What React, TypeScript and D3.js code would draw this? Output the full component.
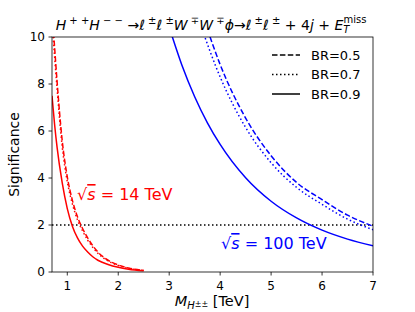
import React from "react";
import * as d3 from "d3";

// 14 TeV curves (mass in TeV, significance)
const mass14 = [0.7, 0.75, 0.8, 0.9, 1.0, 1.1, 1.2, 1.3, 1.4, 1.5, 1.6, 1.8, 2.0, 2.2, 2.5];
const sig14Br05 = [11.2, 9.6, 8.1, 5.6, 4.05, 3.05, 2.35, 1.85, 1.45, 1.12, 0.85, 0.5, 0.3, 0.17, 0.07];
const sig14Br07 = [10.7, 9.2, 7.8, 5.35, 3.85, 2.9, 2.22, 1.75, 1.36, 1.05, 0.8, 0.47, 0.28, 0.16, 0.065];
const sig14Br09 = [7.5, 6.3, 5.3, 3.8, 2.7, 1.95, 1.45, 1.1, 0.85, 0.65, 0.5, 0.32, 0.2, 0.12, 0.05];

// 100 TeV curves
const mass100Br05 = [3.7, 4.0, 4.5, 5.0, 5.5, 6.0, 6.5, 7.0];
const sig100Br05 = [10.65, 8.83, 6.55, 4.95, 3.81, 3.08, 2.42, 1.95];
const mass100Br07 = [3.6, 4.0, 4.5, 5.0, 5.5, 6.0, 6.5, 7.0];
const sig100Br07 = [10.6, 8.3, 6.15, 4.65, 3.6, 2.88, 2.25, 1.8];
const mass100Br09 = [3.0, 3.25, 3.5, 3.75, 4.0, 4.5, 5.0, 5.5, 6.0, 6.5, 7.0];
const sig100Br09 = [10.42, 8.8, 7.46, 6.35, 5.43, 4.01, 3.01, 2.3, 1.78, 1.4, 1.12];

const xTicks = [1, 2, 3, 4, 5, 6, 7];
const yTicks = [0, 2, 4, 6, 8, 10];
const threshold = 2;

const legendItems = [
  { label: "BR=0.5", dash: "5.5,2.4" },
  { label: "BR=0.7", dash: "1.5,2.5" },
  { label: "BR=0.9", dash: "" },
];

const W = 415;
const H = 312;
const M = { left: 52, right: 373, top: 37, bottom: 272 };
const FONT = "DejaVu Sans, sans-serif";

export default function App() {
  const x = d3.scaleLinear().domain([0.7, 7]).range([M.left, M.right]);
  const y = d3.scaleLinear().domain([0, 10]).range([M.bottom, M.top]);

  const line = d3
    .line<[number, number]>()
    .x((d) => x(d[0]))
    .y((d) => y(d[1]))
    .curve(d3.curveMonotoneX);

  const zip = (ms: number[], vs: number[]) => ms.map((m, i) => [m, vs[i]] as [number, number]);

  const curves = [
    { data: zip(mass14, sig14Br05), color: "#ff0000", dash: legendItems[0].dash },
    { data: zip(mass14, sig14Br07), color: "#ff0000", dash: legendItems[1].dash },
    { data: zip(mass14, sig14Br09), color: "#ff0000", dash: legendItems[2].dash },
    { data: zip(mass100Br05, sig100Br05), color: "#0000ff", dash: legendItems[0].dash },
    { data: zip(mass100Br07, sig100Br07), color: "#0000ff", dash: legendItems[1].dash },
    { data: zip(mass100Br09, sig100Br09), color: "#0000ff", dash: legendItems[2].dash },
  ];

  const sup = 10;

  return (
    <svg
      width={W}
      height={H}
      style={{ position: "absolute", left: 0, top: 0, background: "#fff" }}
      fontFamily={FONT}
    >
      <defs>
        <clipPath id="plot">
          <rect x={M.left} y={M.top} width={M.right - M.left} height={M.bottom - M.top} />
        </clipPath>
      </defs>

      {/* title */}
      <text x={211} y={30} textAnchor="middle" fontSize={14}>
        <tspan fontStyle="italic">H</tspan>
        <tspan fontSize={sup} dy={-6}> + +</tspan>
        <tspan dy={6} fontStyle="italic">H</tspan>
        <tspan fontSize={sup} dy={-6}> − −</tspan>
        <tspan dy={6}> →</tspan>
        <tspan fontStyle="italic">ℓ</tspan>
        <tspan fontSize={sup} dy={-6}> ±</tspan>
        <tspan dy={6} fontStyle="italic">ℓ</tspan>
        <tspan fontSize={sup} dy={-6}> ±</tspan>
        <tspan dy={6} fontStyle="italic">W</tspan>
        <tspan fontSize={sup} dy={-6}> ∓</tspan>
        <tspan dy={6} fontStyle="italic">W</tspan>
        <tspan fontSize={sup} dy={-6}> ∓</tspan>
        <tspan dy={6} fontStyle="italic">ϕ</tspan>
        <tspan>→</tspan>
        <tspan fontStyle="italic">ℓ</tspan>
        <tspan fontSize={sup} dy={-6}> ±</tspan>
        <tspan dy={6} fontStyle="italic">ℓ</tspan>
        <tspan fontSize={sup} dy={-6}> ±</tspan>
        <tspan dy={6}>  + 4</tspan>
        <tspan fontStyle="italic">j</tspan>
        <tspan> + </tspan>
        <tspan fontStyle="italic">E</tspan>
        <tspan fontSize={sup} dy={3} fontStyle="italic">T</tspan>
        <tspan fontSize={sup} dx={-6} dy={-10}>miss</tspan>
      </text>

      {/* threshold line */}
      <line
        x1={M.left}
        x2={M.right}
        y1={y(threshold)}
        y2={y(threshold)}
        stroke="#000"
        strokeWidth={1.5}
        strokeDasharray="1.5,2.5"
      />

      {/* curves */}
      <g clipPath="url(#plot)">
        {curves.map((c, i) => (
          <path
            key={i}
            d={line(c.data) || ""}
            fill="none"
            stroke={c.color}
            strokeWidth={1.5}
            strokeDasharray={c.dash || undefined}
          />
        ))}
      </g>

      {/* frame */}
      <rect
        x={M.left}
        y={M.top}
        width={M.right - M.left}
        height={M.bottom - M.top}
        fill="none"
        stroke="#000"
        strokeWidth={0.8}
      />

      {/* x axis */}
      {xTicks.map((t) => (
        <g key={t}>
          <line x1={x(t)} x2={x(t)} y1={M.bottom} y2={M.bottom + 3.5} stroke="#000" strokeWidth={0.8} />
          <text x={x(t)} y={290} textAnchor="middle" fontSize={12}>
            {t}
          </text>
        </g>
      ))}
      {/* y axis */}
      {yTicks.map((t) => (
        <g key={t}>
          <line x1={M.left - 3.5} x2={M.left} y1={y(t)} y2={y(t)} stroke="#000" strokeWidth={0.8} />
          <text x={45} y={y(t)} dy="0.35em" textAnchor="end" fontSize={12}>
            {t}
          </text>
        </g>
      ))}

      {/* axis labels */}
      <text x={212} y={306} textAnchor="middle" fontSize={14.5}>
        <tspan fontStyle="italic">M</tspan>
        <tspan fontSize={10} dy={3} fontStyle="italic">H</tspan>
        <tspan fontSize={8} dy={-2}>±±</tspan>
        <tspan dy={-1}> [TeV]</tspan>
      </text>
      <text
        transform={`translate(19,${(M.top + M.bottom) / 2}) rotate(-90)`}
        textAnchor="middle"
        fontSize={14}
      >
        Significance
      </text>

      {/* energy labels */}
      <text x={77} y={200} fontSize={16} fill="#ff0000">
        <tspan>√</tspan>
        <tspan fontStyle="italic" style={{ textDecoration: "overline" }}>s</tspan>
        <tspan> = 14 TeV</tspan>
      </text>
      <text x={221} y={249} fontSize={16} fill="#0000ff">
        <tspan>√</tspan>
        <tspan fontStyle="italic" style={{ textDecoration: "overline" }}>s</tspan>
        <tspan> = 100 TeV</tspan>
      </text>

      {/* legend */}
      {legendItems.map((l, i) => {
        const ly = 55 + i * 19.5;
        return (
          <g key={l.label}>
            <line
              x1={272}
              x2={300}
              y1={ly}
              y2={ly}
              stroke="#000"
              strokeWidth={1.5}
              strokeDasharray={l.dash || undefined}
            />
            <text x={311} y={ly} dy="0.35em" fontSize={13}>
              {l.label}
            </text>
          </g>
        );
      })}
    </svg>
  );
}
